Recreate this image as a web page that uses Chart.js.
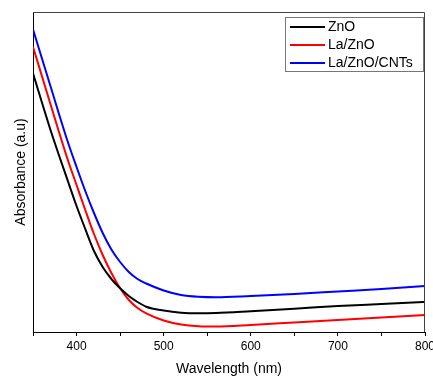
<!DOCTYPE html>
<html lang="en">
<head>
    <meta charset="UTF-8">
    <title>Absorbance</title>
    <script src="https://cdn.jsdelivr.net/npm/chart.js@4.4.1/dist/chart.umd.min.js"></script>
    <style>
        body{
            margin: 0;
            padding: 0;
            background: white;
        }
        .wrap{
            width: 433px;
            height: 378px;
        }
    </style>
</head>
<body>
<div class="wrap"><canvas id="abs"></canvas></div>
<script>
    // wavelength (nm)
    const wavelengths = [350,370,390,400,410,420,430,440,450,460,470,480,500,520,540,560,600,650,700,750,800];
    // absorbance (a.u)
    const znO     = [258.7,202.3,151,126,103,81,65,53,43.7,36,30,25.3,21.5,19.3,18.7,19,20.8,23.3,26,28,30];
    const laZnO   = [285.3,228,172,147,122,98,77,59,43.7,32,24,18.7,11.5,7.5,5.8,5.5,7,9.5,12,14.5,17];
    const laZnOCnt= [302.7,246,190,165,141,119,99,82.5,70,60,53,48.5,41.5,37,35.2,34.7,36,38,40.5,43,46];
    const seriesNames = ['ZnO','La/ZnO','La/ZnO/CNTs'];
    const seriesColors = ['#000000','#ff0000','#0000ff'];
    const xTicks = [400,500,600,700,800];

    const allSeries = [znO, laZnO, laZnOCnt];
    const datasets = allSeries.map((s, i) => ({
        label: seriesNames[i],
        data: s.map((v, j) => ({x: wavelengths[j], y: v})),
        borderColor: seriesColors[i],
        borderWidth: 2,
        pointRadius: 0,
        cubicInterpolationMode: 'monotone',
        fill: false
    }));

    // frame + legend box drawn inside the plot area
    const framePlugin = {
        id: 'frame',
        afterDraw(chart){
            const {ctx, chartArea: a} = chart;
            ctx.save();
            ctx.strokeStyle = '#444';
            ctx.lineWidth = 1;
            ctx.beginPath();
            ctx.moveTo(a.left, a.top + 0.5);
            ctx.lineTo(a.right - 0.5, a.top + 0.5);
            ctx.lineTo(a.right - 0.5, a.bottom);
            ctx.stroke();

            // legend
            const bx = 285, by = 17, bw = 138, bh = 54;
            ctx.strokeStyle = '#777';
            ctx.fillStyle = 'white';
            ctx.fillRect(bx, by, bw, bh);
            ctx.strokeRect(bx + 0.5, by + 0.5, bw, bh);
            ctx.font = '14px "Liberation Sans", Arial, sans-serif';
            ctx.textBaseline = 'middle';
            seriesNames.forEach((n, i) => {
                const yy = by + 10 + i * 18;
                ctx.strokeStyle = seriesColors[i];
                ctx.lineWidth = 2;
                ctx.beginPath();
                ctx.moveTo(bx + 5, yy);
                ctx.lineTo(bx + 40, yy);
                ctx.stroke();
                ctx.fillStyle = '#000';
                ctx.fillText(n, bx + 43, yy);
            });
            ctx.restore();
        }
    };

    new Chart(document.getElementById('abs'), {
        type: 'line',
        data: {datasets: datasets},
        options: {
            responsive: true,
            maintainAspectRatio: false,
            animation: false,
            layout: {padding: {top: 12, right: 8, left: 0, bottom: 0}},
            plugins: {
                legend: {display: false},
                tooltip: {enabled: false}
            },
            scales: {
                x: {
                    type: 'linear',
                    min: 350,
                    max: 800,
                    afterFit(s){
                        s.height = 46;
                        s.paddingRight = 0;
                        s.paddingLeft = 0;
                    },
                    afterBuildTicks(s){
                        s.ticks = [];
                        for (let v = 350; v <= 800; v += 50) s.ticks.push({value: v});
                    },
                    ticks: {
                        autoSkip: false,
                        maxRotation: 0,
                        padding: 3,
                        color: '#000',
                        font: {family: '"Liberation Sans", Arial, sans-serif', size: 12},
                        callback: v => xTicks.includes(v) ? String(v) : ''
                    },
                    grid: {
                        drawOnChartArea: false,
                        tickLength: 4,
                        color: '#000'
                    },
                    border: {color: '#000', width: 1},
                    title: {
                        display: true,
                        text: 'Wavelength (nm)',
                        color: '#000',
                        font: {family: '"Liberation Sans", Arial, sans-serif', size: 14},
                        padding: {top: 0, bottom: 0}
                    }
                },
                y: {
                    min: 0,
                    max: 320,
                    afterFit(s){ s.width = 33; },
                    ticks: {display: false},
                    grid: {display: false},
                    border: {color: '#000', width: 1},
                    title: {
                        display: true,
                        text: 'Absorbance (a.u)',
                        color: '#000',
                        font: {family: '"Liberation Sans", Arial, sans-serif', size: 14},
                        padding: {top: 13, bottom: 0}
                    }
                }
            }
        },
        plugins: [framePlugin]
    });
</script>
</body>
</html>
